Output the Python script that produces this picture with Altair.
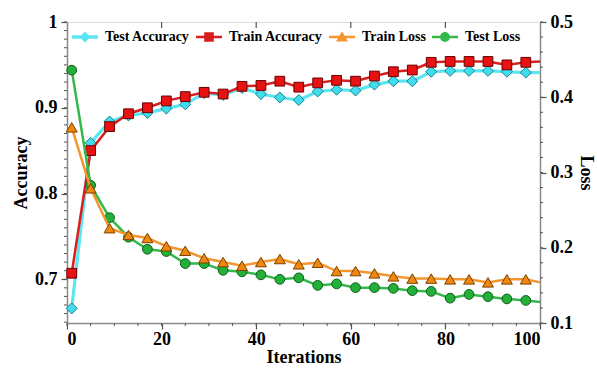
import altair as alt
import pandas as pd

# ---------------- data ----------------
iterations = [1, 5, 9, 13, 17, 21, 25, 29, 33, 37, 41, 45, 49, 53, 57, 61, 65, 69, 73, 77, 81, 85, 89, 93, 97]
test_acc = [0.666, 0.859, 0.884, 0.891, 0.894, 0.899, 0.904, 0.917, 0.915, 0.923, 0.916, 0.912, 0.909,
            0.919, 0.921, 0.920, 0.927, 0.931, 0.931, 0.942, 0.943, 0.943, 0.943, 0.942, 0.941]
train_acc = [0.707, 0.850, 0.878, 0.893, 0.900, 0.908, 0.913, 0.918, 0.916, 0.925, 0.926, 0.931, 0.924,
             0.929, 0.932, 0.931, 0.937, 0.942, 0.944, 0.953, 0.954, 0.954, 0.954, 0.950, 0.953]
train_loss = [0.360, 0.279, 0.226, 0.217, 0.213, 0.202, 0.196, 0.186, 0.181, 0.176, 0.181, 0.185, 0.178,
              0.180, 0.169, 0.169, 0.166, 0.162, 0.159, 0.159, 0.158, 0.158, 0.154, 0.158, 0.158]
test_loss = [0.436, 0.283, 0.240, 0.214, 0.198, 0.195, 0.179, 0.179, 0.170, 0.168, 0.164, 0.158, 0.160,
             0.150, 0.152, 0.147, 0.147, 0.146, 0.143, 0.142, 0.133, 0.138, 0.135, 0.132, 0.130]
# line ends at the right edge without a marker
end_iteration = 100
end_values = {"Test Accuracy": 0.941, "Train Accuracy": 0.954, "Train Loss": 0.154, "Test Loss": 0.128}

series_names = ["Test Accuracy", "Train Accuracy", "Train Loss", "Test Loss"]
series_values = {"Test Accuracy": test_acc, "Train Accuracy": train_acc,
                 "Train Loss": train_loss, "Test Loss": test_loss}

x_major = [0, 20, 40, 60, 80, 100]
x_minor = list(range(0, 101, 5))
top_ticks = [20, 40, 60, 80]
yl_major = [0.7, 0.8, 0.9, 1.0]
yl_minor = [round(0.65 + 0.01 * i, 2) for i in range(36)]
yr_major = [0.1, 0.2, 0.3, 0.4, 0.5]
yr_minor = [round(0.1 + 0.02 * i, 2) for i in range(21)]

rows = []
for name in series_names:
    for it, v in zip(iterations, series_values[name]):
        rows.append({"series": name, "iteration": it, "value": v, "marker": True})
    rows.append({"series": name, "iteration": end_iteration, "value": end_values[name], "marker": False})
df = pd.DataFrame(rows)

# ---------------- styles ----------------
W, H = 473, 301
FONT = "Liberation Serif"
TICK = "#555555"
style = {
    "Test Accuracy": dict(line="#5BE6F2", lw=3.2, fill="#3FDDEE", stroke="#1F7F8A", shape="diamond", size=120),
    "Train Accuracy": dict(line="#D81E1E", lw=2.5, fill="#E81212", stroke="#6A0000", shape="square", size=95),
    "Train Loss": dict(line="#F3962E", lw=2.5, fill="#F0880F", stroke="#7A4200", shape="triangle-up", size=120),
    "Test Loss": dict(line="#35B84A", lw=2.5, fill="#22B03A", stroke="#0E5F1C", shape="circle", size=95),
}
legend_paths = [
    "M-1,-0.13H1V0.13H-1Z M0,-0.42L0.42,0L0,0.42L-0.42,0Z",
    "M-1,-0.1H1V0.1H-1Z M-0.37,-0.37H0.37V0.37H-0.37Z",
    "M-1,-0.1H1V0.1H-1Z M0,-0.44L0.46,0.34H-0.46Z",
    "M-1,-0.1H1V0.1H-1Z M0.38,0A0.38,0.38,0,1,1,-0.38,0A0.38,0.38,0,1,1,0.38,0Z",
]
legend_colors = [style[n]["line"] for n in series_names]

xscale = alt.Scale(domain=[0, 100], nice=False, zero=False)
yleft = alt.Scale(domain=[0.649, 1.0], nice=False, zero=False)
yright = alt.Scale(domain=[0.1, 0.5], nice=False, zero=False)

label_kw = dict(labelFont=FONT, labelFontSize=18, labelFontWeight="bold", labelColor="black",
                titleFont=FONT, titleFontWeight="bold", titleColor="black",
                domainColor="#8a8a8a", domainWidth=1.5, tickColor=TICK, grid=False)

x_axis_major = alt.Axis(orient="bottom", values=x_major, format="d", tickSize=6, tickWidth=1.2,
                        labelPadding=1, title="Iterations", titleFontSize=18, titlePadding=0,
                        **label_kw)
yl_axis_major = alt.Axis(orient="left", values=yl_major, format=".1~f", tickSize=6,
                         tickWidth=1.2, labelPadding=4, title="Accuracy", titleFontSize=18,
                         titlePadding=4, **label_kw)
yr_axis_major = alt.Axis(orient="right", values=yr_major, format=".1f", tickSize=6,
                         tickWidth=1.2, labelPadding=4, title="Loss", titleFontSize=18, titlePadding=4,
                         **label_kw)


def series_layers(name, yscale, xaxis=None, yaxis=None):
    s = style[name]
    base = alt.Chart(df).transform_filter(alt.datum.series == name)
    line = base.mark_line(color=s["line"], strokeWidth=s["lw"]).encode(
        x=alt.X("iteration:Q", scale=xscale, axis=xaxis),
        y=alt.Y("value:Q", scale=yscale, axis=yaxis),
    )
    pts = base.transform_filter(alt.datum.marker).mark_point(
        filled=True, shape=s["shape"], size=s["size"], fill=s["fill"], stroke=s["stroke"],
        strokeWidth=1, opacity=1
    ).encode(
        x=alt.X("iteration:Q", scale=xscale, axis=None),
        y=alt.Y("value:Q", scale=yscale, axis=None),
    )
    return line, pts


ta_line, ta_pts = series_layers("Test Accuracy", yleft, xaxis=x_axis_major, yaxis=yl_axis_major)
tr_line, tr_pts = series_layers("Train Accuracy", yleft)

# minor / extra tick marks drawn through the scales
top_rules = alt.Chart(pd.DataFrame({"t": top_ticks})).mark_rule(color=TICK, strokeWidth=1.2).encode(
    x=alt.X("t:Q", scale=xscale, axis=None), y=alt.value(0), y2=alt.value(6))
x_minor_rules = alt.Chart(pd.DataFrame({"t": x_minor})).mark_rule(color=TICK, strokeWidth=1).encode(
    x=alt.X("t:Q", scale=xscale, axis=None), y=alt.value(H), y2=alt.value(H + 3))
yl_minor_rules = alt.Chart(pd.DataFrame({"t": yl_minor})).mark_rule(color=TICK, strokeWidth=1).encode(
    y=alt.Y("t:Q", scale=yleft, axis=None), x=alt.value(0), x2=alt.value(-3))
yr_minor_rules = alt.Chart(pd.DataFrame({"t": yr_minor})).mark_rule(color=TICK, strokeWidth=1).encode(
    y=alt.Y("t:Q", scale=yright, axis=None), x=alt.value(W), x2=alt.value(W + 3))

legend_df = pd.DataFrame({"series": series_names})
legend_layer = alt.Chart(legend_df).mark_point(filled=True, opacity=1, clip=True, size=10).encode(
    x=alt.value(-500), y=alt.value(-500),
    color=alt.Color("series:N", scale=alt.Scale(domain=series_names, range=legend_colors),
                    legend=alt.Legend(orient="none", direction="horizontal", legendX=5, legendY=2,
                                      title=None, symbolSize=676, symbolStrokeWidth=0,
                                      labelFont=FONT, labelFontSize=14, labelFontWeight="bold",
                                      labelColor="black", labelOffset=7, columnPadding=6,
                                      padding=0, symbolOpacity=1)),
    shape=alt.Shape("series:N", scale=alt.Scale(domain=series_names, range=legend_paths)),
)

acc_group = alt.layer(ta_line, ta_pts, tr_line, tr_pts, yl_minor_rules, x_minor_rules, top_rules,
                      legend_layer).resolve_axis(x="independent", y="independent")

tl_line, tl_pts = series_layers("Train Loss", yright, yaxis=yr_axis_major)
te_line, te_pts = series_layers("Test Loss", yright)
loss_group = alt.layer(te_line, te_pts, tl_line, tl_pts, yr_minor_rules).resolve_axis(
    x="independent", y="independent")

chart = alt.layer(acc_group, loss_group).resolve_scale(y="independent").properties(
    width=W, height=H,
    autosize=alt.AutoSizeParams(type="none"),
    padding={"left": 67, "top": 22, "right": 57, "bottom": 46},
).configure_view(stroke="#8a8a8a", strokeWidth=1.5).configure(background="white")

chart.save("out.html", embed_options={"renderer": "svg", "actions": False})
